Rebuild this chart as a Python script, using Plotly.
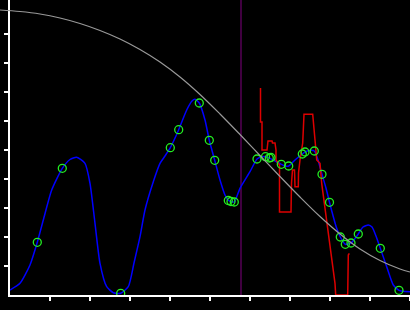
import plotly.graph_objects as go

# Blue smooth curve (x, y)
blue_x = [10, 20, 30, 37.3, 43.3, 51.7, 62.3, 70, 76.7, 85, 90, 95, 100, 106.7, 113.3, 120.7, 128.3, 134, 140, 145,
          153.3, 160, 165, 170.3, 178.7, 186.7, 192, 195, 199.3, 205, 209.3, 214.7, 220, 225, 228.3, 231, 234.3, 240,
          250, 257, 261, 265.5, 269.3, 275, 281.3, 285, 288.7, 295, 302.3, 305, 309, 314.3, 318, 322, 326, 329.5,
          333.3, 336.7, 340.3, 345.3, 351, 358.3, 363, 368.3, 372, 376, 380.3, 386.7, 393.3, 399, 405, 410]
blue_y = [5, 11.7, 30, 52.7, 75, 105, 126.7, 135.5, 137.7, 131.7, 111.7, 71.7, 31.7, 8.3, 2.3, 1.7, 8.3, 32, 58.3, 85,
          113.3, 131.7, 139, 147.3, 165.3, 185, 194, 195.7, 192, 175, 154.7, 134.7, 115, 100, 94.7, 93.5, 93, 106.7,
          123.3, 136, 138, 138.3, 137, 134, 130.7, 129, 129, 135, 141, 143, 144.5, 144, 135, 120.7, 107, 92.7,
          78.3, 66.7, 58, 50.7, 52, 61, 68, 70, 68, 59, 46.7, 28.3, 10, 4.7, 3.5, 3.3]

# Green sample points
pts_x = [37.3, 62.3, 120.7, 170.3, 178.7, 199.3, 209.3, 214.7, 228.3, 231, 234.3, 257, 265.5, 269.3, 271, 281.3,
         288.7, 302.3, 305, 314.3, 322, 329.5, 340.3, 345.3, 351, 358.3, 380.3, 399]
pts_y = [52.7, 126.7, 1.7, 147.3, 165.3, 192, 154.7, 134.7, 94.5, 93.5, 93, 136, 138.3, 137, 137.5, 130.7,
         129, 141, 143, 144, 120.7, 92.7, 58, 50.7, 52, 61, 46.7, 4.7]

# Gray bell curve
gray_x = [0, 20, 40, 60, 80, 100, 120, 140, 160, 180, 200, 220, 240, 260, 280, 300, 320, 340, 360, 380, 400, 410]
gray_y = [285, 283.5, 281, 277, 271.5, 264.5, 256, 245.5, 233, 218, 200.5, 181, 160.5, 139.5, 118.5, 98, 78.5, 61,
          46, 34.5, 26, 23]

# Red step-like line
red_x = [260.5, 260.5, 262, 262, 267, 268, 272, 272.5, 275, 276, 276, 279.5, 279.5, 291, 291.5, 292.5, 294.5, 295,
         298.3, 298.5, 300, 301.7, 302.7, 303.3, 304, 312.7, 313.3, 314, 315.3, 316.7, 320, 321.7, 324, 326, 328.3,
         330.7, 332.3, 333.3, 335, 335.7, 347.7, 348.3, 349.3]
red_y = [207, 173, 173, 145, 145, 154, 154, 152, 152, 145, 135, 130, 83, 83, 112, 125, 125, 108.3,
         108.3, 122, 135, 145, 152, 165, 180.7, 180.7, 171.7, 165, 151.7, 135, 131.7, 111.7, 95, 78.3, 61.7,
         46.7, 36.7, 28.3, 11.7, 0, 0, 40, 41.7]

vline_x = 241
x_ticks = [50, 90, 130, 170, 210, 250, 290, 330, 370, 410]
y_ticks = [29, 58, 87, 116, 145, 174, 203, 232, 261]

fig = go.Figure()
fig.add_trace(go.Scatter(x=gray_x, y=gray_y, xaxis='x2', yaxis='y2', mode='lines',
                         line=dict(color='#999999', width=1.2, shape='spline', smoothing=1)))
fig.add_trace(go.Scatter(x=blue_x, y=blue_y, mode='lines',
                         line=dict(color='#0000ff', width=1.5, shape='spline', smoothing=0.6)))
fig.add_trace(go.Scatter(x=red_x, y=red_y, mode='lines', line=dict(color='#dd0000', width=1.5)))
fig.add_trace(go.Scatter(x=pts_x, y=pts_y, mode='markers',
                         marker=dict(symbol='circle-open', size=8, color='#22ee22', line=dict(width=1.3))))
fig.add_shape(type='line', xref='x', yref='paper', x0=vline_x, x1=vline_x, y0=0, y1=1,
              line=dict(color='#800080', width=1), layer='below')

axis_common = dict(showgrid=False, zeroline=False, showline=True, linecolor='white', linewidth=1.5,
                   ticks='outside', ticklen=4, tickcolor='white', tickwidth=1.5, showticklabels=False)
fig.update_layout(
    width=410, height=310, margin=dict(l=0, r=0, t=0, b=15),
    paper_bgcolor='black', plot_bgcolor='rgba(0,0,0,0)', showlegend=False,
    xaxis=dict(domain=[10 / 410, 1], range=[10, 410], tickvals=x_ticks, **axis_common),
    yaxis=dict(domain=[0, 1], range=[0, 295], tickvals=y_ticks, **axis_common),
    xaxis2=dict(domain=[0, 1], range=[0, 410], visible=False, anchor='y2'),
    yaxis2=dict(domain=[0, 1], range=[0, 295], visible=False, anchor='x2'),
)
fig.write_html("out.html")
